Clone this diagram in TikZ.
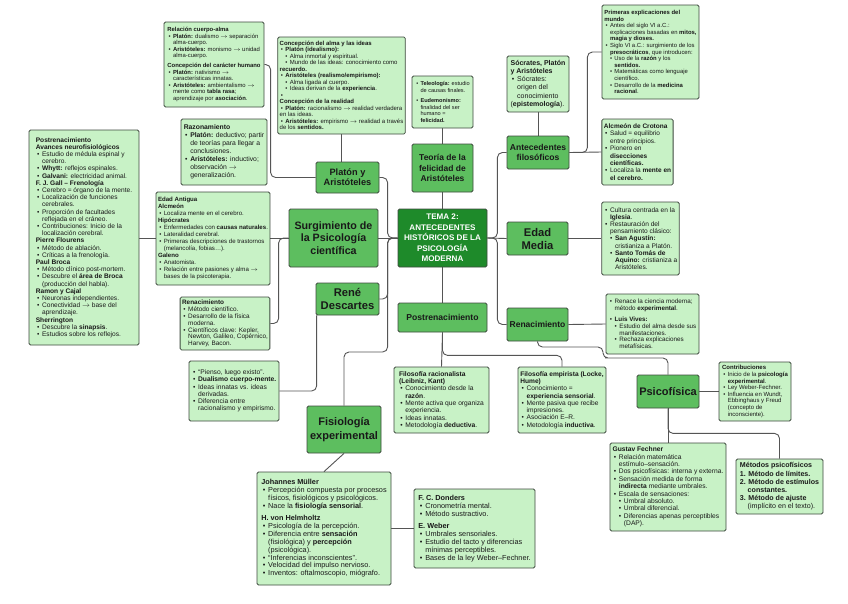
\documentclass[tikz,border=0pt]{standalone}
\usepackage{fontspec}
\setmainfont{Liberation Sans}
\usetikzlibrary{backgrounds}
\definecolor{verdeclaro}{HTML}{C8F2C6}
\definecolor{verdemedio}{HTML}{5DBE5F}
\definecolor{verdeosc}{HTML}{1E8A2A}
\definecolor{borde}{HTML}{3F4A3F}
\definecolor{linea}{HTML}{555555}
\newcommand{\hbul}{\hspace*{0.2em}\makebox[0.75em][l]{\textbullet}}
\newcommand{\hcnt}{\hspace*{0.95em}}
\newcommand{\sbul}{\hspace*{0.95em}\makebox[0.75em][l]{\textbullet}}
\newcommand{\scnt}{\hspace*{1.7em}}
\newcommand{\tam}[2]{\fontsize{#1}{#2}\selectfont}
\newcommand{\flecha}{\ensuremath{\rightarrow}}
\begin{document}
\begin{tikzpicture}[x=1pt,y=-1pt,
	hoja/.style={draw=borde,fill=verdeclaro,rounded corners=1.5pt,line width=0.8pt,
		align=left,inner sep=2pt,text=black!90},
	rama/.style={draw=borde,fill=verdemedio,rounded corners=1.5pt,line width=0.8pt,
		align=center,inner sep=1pt,text=black!90},
	tema/.style={draw=borde,fill=verdeosc,rounded corners=1.5pt,line width=0.8pt,
		align=center,inner sep=1pt,text=white},
	enlace/.style={draw=linea,line width=0.9pt,rounded corners=5pt}]
	\useasboundingbox (0,0) rectangle (848,603);
	% Nodo central
	\node[tema,minimum width=89pt,minimum height=58pt,font=\tam{8.1}{10.4}\bfseries] (centro) at (442.5,238)
		{TEMA 2:\\ANTECEDENTES\\HISTÓRICOS DE LA\\PSICOLOGÍA\\MODERNA};
	% Ramas
	\node[rama,minimum width=63pt,minimum height=31pt,font=\tam{9.2}{10.3}\bfseries] (platon) at (347.5,177.5) {Platón y\\Aristóteles};
	\node[rama,minimum width=61pt,minimum height=48pt,font=\tam{8.5}{10.5}\bfseries] (teoria) at (442.5,168) {Teoría de la\\felicidad de\\Aristóteles};
	\node[rama,minimum width=62pt,minimum height=33pt,font=\tam{8.6}{10.5}\bfseries] (antec) at (538,152.5) {Antecedentes\\filosóficos};
	\node[rama,minimum width=89pt,minimum height=58pt,font=\tam{10.7}{12.4}\bfseries] (surg) at (333.5,238) {Surgimiento de\\la Psicología\\científica};
	\node[rama,minimum width=63pt,minimum height=32pt,font=\tam{11.2}{13}\bfseries] (rene) at (347.5,299) {René\\Descartes};
	\node[rama,minimum width=61pt,minimum height=33pt,font=\tam{11.2}{13}\bfseries] (edadm) at (537.5,238.5) {Edad\\Media};
	\node[rama,minimum width=89pt,minimum height=29pt,font=\tam{8.6}{10}\bfseries] (postren) at (442.5,317.5) {Postrenacimiento};
	\node[rama,minimum width=61pt,minimum height=33pt,font=\tam{8.5}{10}\bfseries] (renac) at (537.5,324.5) {Renacimiento};
	\node[rama,minimum width=62pt,minimum height=33pt,font=\tam{11}{13}\bfseries] (psico) at (668,391.5) {Psicofísica};
	\node[rama,minimum width=74pt,minimum height=47pt,font=\tam{11}{13.3}\bfseries] (fisio) at (344,429.5) {Fisiología\\experimental};
	% Hojas
	\node[hoja,minimum width=100pt,minimum height=85pt,font=\tam{5.9}{6.6}] (relacion) at (214,64.5) {%
		\textbf{Relación cuerpo-alma}\\
		\hbul\textbf{Platón:} dualismo \flecha{} separación\\
		\hcnt alma-cuerpo.\\
		\hbul\textbf{Aristóteles:} monismo \flecha{} unidad\\
		\hcnt alma-cuerpo.\\[3pt]
		\textbf{Concepción del carácter humano}\\
		\hbul\textbf{Platón:} nativismo \flecha\\
		\hcnt características innatas.\\
		\hbul\textbf{Aristóteles:} ambientalismo \flecha\\
		\hcnt mente como \textbf{tabla rasa};\\
		\hcnt aprendizaje por \textbf{asociación}.};
	\node[hoja,minimum width=125pt,minimum height=97pt,font=\tam{6}{6.5}] (concep) at (341.5,85.5) {%
		\textbf{Concepción del alma y las ideas}\\
		\hbul\textbf{Platón (idealismo):}\\
		\sbul Alma inmortal y espiritual.\\
		\sbul Mundo de las ideas: conocimiento como\\
		\textbf{recuerdo.}\\
		\hbul\textbf{Aristóteles (realismo/empirismo):}\\
		\sbul Alma ligada al cuerpo.\\
		\sbul Ideas derivan de la \textbf{experiencia}.\\
		\hbul\\
		\textbf{Concepción de la realidad}\\
		\hbul\textbf{Platón:} racionalismo \flecha{} realidad verdadera\\
		en las ideas.\\
		\hbul\textbf{Aristóteles:} empirismo \flecha{} realidad a través\\
		de los \textbf{sentidos.}};
	\node[hoja,minimum width=86pt,minimum height=66pt,font=\tam{6.8}{8}] (razon) at (224,152) {%
		\textbf{Razonamiento}\\
		\hbul\textbf{Platón:} deductivo; partir\\
		\hcnt de teorías para llegar a\\
		\hcnt conclusiones.\\
		\hbul\textbf{Aristóteles:} inductivo;\\
		\hcnt observación \flecha\\
		\hcnt generalización.};
	\node[hoja,minimum width=61pt,minimum height=52pt,font=\tam{5.6}{6.6}] (teleo) at (442.5,102) {%
		\hbul\textbf{Teleología:} estudio\\
		\hcnt de causas finales.\\[4pt]
		\hbul\textbf{Eudemonismo:}\\
		\hcnt finalidad del ser\\
		\hcnt humano =\\
		\hcnt\textbf{felicidad.}};
	\node[hoja,minimum width=62pt,minimum height=56pt,font=\tam{7}{8.2}] (socrates) at (538,84) {%
		\textbf{Sócrates, Platón}\\
		\textbf{y Aristóteles}\\
		\hbul Sócrates:\\
		\hcnt origen del\\
		\hcnt conocimiento\\
		(\textbf{epistemología}).};
	\node[hoja,minimum width=97pt,minimum height=94pt,font=\tam{5.9}{6.6}] (primeras) at (650.5,52) {%
		\textbf{Primeras explicaciones del}\\
		\textbf{mundo}\\
		\hbul Antes del siglo VI a.C.:\\
		\hcnt explicaciones basadas en \textbf{mitos,}\\
		\hcnt\textbf{magia y dioses.}\\
		\hbul Siglo VI a.C.: surgimiento de los\\
		\hcnt\textbf{presocráticos}, que introducen:\\
		\sbul Uso de la \textbf{razón} y los\\
		\scnt\textbf{sentidos.}\\
		\sbul Matemáticas como lenguaje\\
		\scnt científico.\\
		\sbul Desarrollo de la \textbf{medicina}\\
		\scnt\textbf{racional}.};
	\node[hoja,minimum width=71pt,minimum height=66pt,font=\tam{6.5}{7.4}] (alcmeon) at (637.5,152) {%
		\textbf{Alcmeón de Crotona}\\
		\hbul Salud = equilibrio\\
		\hcnt entre principios.\\
		\hbul Pionero en\\
		\hcnt\textbf{disecciones}\\
		\hcnt\textbf{científicas.}\\
		\hbul Localiza la \textbf{mente en}\\
		\hcnt\textbf{el cerebro.}};
	\node[hoja,minimum width=110pt,minimum height=215pt,font=\tam{6.6}{7.2}] (postleaf) at (84,237.5) {%
		\textbf{Postrenacimiento}\\
		\textbf{Avances neurofisiológicos}\\
		\hbul Estudio de médula espinal y\\
		\hcnt cerebro.\\
		\hbul\textbf{Whytt:} reflejos espinales.\\
		\hbul\textbf{Galvani:} electricidad animal.\\
		\textbf{F. J. Gall – Frenología}\\
		\hbul Cerebro = órgano de la mente.\\
		\hbul Localización de funciones\\
		\hcnt cerebrales.\\
		\hbul Proporción de facultades\\
		\hcnt reflejada en el cráneo.\\
		\hbul Contribuciones: Inicio de la\\
		\hcnt localización cerebral.\\
		\textbf{Pierre Flourens}\\
		\hbul Método de ablación.\\
		\hbul Críticas a la frenología.\\
		\textbf{Paul Broca}\\
		\hbul Método clínico post-mortem.\\
		\hbul Descubre el \textbf{área de Broca}\\
		\hcnt(producción del habla).\\
		\textbf{Ramon y Cajal}\\
		\hbul Neuronas independientes.\\
		\hbul Conectividad \flecha{} base del\\
		\hcnt aprendizaje.\\
		\textbf{Sherrington}\\
		\hbul Descubre la \textbf{sinapsis}.\\
		\hbul Estudios sobre los reflejos.};
	\node[hoja,minimum width=112pt,minimum height=93pt,font=\tam{6.1}{7}] (antigua) at (213,238.5) {%
		\textbf{Edad Antigua}\\
		\textbf{Alcmeón}\\
		\hbul Localiza mente en el cerebro.\\
		\textbf{Hipócrates}\\
		\hbul Enfermedades con \textbf{causas naturales}.\\
		\hbul Lateralidad cerebral.\\
		\hbul Primeras descripciones de trastornos\\
		\hcnt(melancolía, fobias…).\\
		\textbf{Galeno}\\
		\hbul Anatomista.\\
		\hbul Relación entre pasiones y alma \flecha\\
		\hcnt bases de la psicoterapia.};
	\node[hoja,minimum width=88pt,minimum height=53pt,font=\tam{6.4}{6.9}] (renleaf) at (225,323.5) {%
		\textbf{Renacimiento}\\
		\hbul Método científico.\\
		\hbul Desarrollo de la física\\
		\hcnt moderna.\\
		\hbul Científicos clave: Kepler,\\
		\hcnt Newton, Galileo, Copérnico,\\
		\hcnt Harvey, Bacon.};
	\node[hoja,minimum width=90pt,minimum height=60pt,font=\tam{6.7}{7.3}] (pienso) at (234,391) {%
		\hbul “Pienso, luego existo”.\\
		\hbul\textbf{Dualismo cuerpo-mente.}\\
		\hbul Ideas innatas vs. ideas\\
		\hcnt derivadas.\\
		\hbul Diferencia entre\\
		\hcnt racionalismo y empirismo.};
	\node[hoja,minimum width=77pt,minimum height=73pt,font=\tam{6.6}{7.2}] (emleaf) at (640.5,238.5) {%
		\hbul Cultura centrada en la\\
		\hcnt\textbf{Iglesia}.\\
		\hbul Restauración del\\
		\hcnt pensamiento clásico:\\
		\sbul\textbf{San Agustín:}\\
		\scnt cristianiza a Platón.\\
		\sbul\textbf{Santo Tomás de}\\
		\scnt\textbf{Aquino:} cristianiza a\\
		\scnt Aristóteles.};
	\node[hoja,minimum width=93pt,minimum height=60pt,font=\tam{6.3}{6.8}] (renace) at (652.5,324) {%
		\hbul Renace la ciencia moderna;\\
		\hcnt método \textbf{experimental}.\\[4pt]
		\hbul\textbf{Luis Vives:}\\
		\sbul Estudio del alma desde sus\\
		\scnt manifestaciones.\\
		\sbul Rechaza explicaciones\\
		\scnt metafísicas.};
	\node[hoja,minimum width=72pt,minimum height=59pt,font=\tam{6}{6.6}] (contrib) at (755,391.5) {%
		\textbf{Contribuciones}\\
		\hbul Inicio de la \textbf{psicología}\\
		\hcnt\textbf{experimental}.\\
		\hbul Ley Weber-Fechner.\\
		\hbul Influencia en Wundt,\\
		\hcnt Ebbinghaus y Freud\\
		\hcnt(concepto de\\
		\hcnt inconsciente).};
	\node[hoja,minimum width=116pt,minimum height=88pt,font=\tam{6.7}{7.4}] (fechner) at (668,487) {%
		\textbf{Gustav Fechner}\\
		\hbul Relación matemática\\
		\hcnt estímulo–sensación.\\
		\hbul Dos psicofísicas: interna y externa.\\
		\hbul Sensación medida de forma\\
		\hcnt\textbf{indirecta} mediante umbrales.\\
		\hbul Escala de sensaciones:\\
		\sbul Umbral absoluto.\\
		\sbul Umbral diferencial.\\
		\sbul Diferencias apenas perceptibles\\
		\scnt(DAP).};
	\node[hoja,minimum width=87pt,minimum height=55pt,font=\tam{7.1}{8.2}] (metodos) at (779.5,486.5) {%
		\textbf{Métodos psicofísicos}\\
		\textbf{1. Método de límites.}\\
		\textbf{2. Método de estímulos}\\
		\hspace*{1.1em}\textbf{constantes.}\\
		\textbf{3. Método de ajuste}\\
		\hspace*{1.1em}(implícito en el texto).};
	\node[hoja,minimum width=95pt,minimum height=66pt,font=\tam{6.7}{7.3}] (racional) at (441.5,400) {%
		\textbf{Filosofía racionalista}\\
		\textbf{(Leibniz, Kant)}\\
		\hbul Conocimiento desde la\\
		\hcnt\textbf{razón}.\\
		\hbul Mente activa que organiza\\
		\hcnt experiencia.\\
		\hbul Ideas innatas.\\
		\hbul Metodología \textbf{deductiva}.};
	\node[hoja,minimum width=88pt,minimum height=66pt,font=\tam{6.6}{7.3}] (empir) at (562,400) {%
		\textbf{Filosofía empirista (Locke,}\\
		\textbf{Hume)}\\
		\hbul Conocimiento =\\
		\hcnt\textbf{experiencia sensorial}.\\
		\hbul Mente pasiva que recibe\\
		\hcnt impresiones.\\
		\hbul Asociación E–R.\\
		\hbul Metodología \textbf{inductiva}.};
	\node[hoja,minimum width=134pt,minimum height=113pt,font=\tam{7.3}{7.9}] (muller) at (324,528.5) {%
		\textbf{Johannes Müller}\\
		\hbul Percepción compuesta por procesos\\
		\hcnt físicos, fisiológicos y psicológicos.\\
		\hbul Nace la \textbf{fisiología sensorial}.\\[4pt]
		\textbf{H. von Helmholtz}\\
		\hbul Psicología de la percepción.\\
		\hbul Diferencia entre \textbf{sensación}\\
		\hcnt(fisiológica) y \textbf{percepción}\\
		\hcnt(psicológica).\\
		\hbul “Inferencias inconscientes”.\\
		\hbul Velocidad del impulso nervioso.\\
		\hbul Inventos: oftalmoscopio, miógrafo.};
	\node[hoja,minimum width=121pt,minimum height=79pt,font=\tam{7.3}{7.9}] (donders) at (474.5,528.5) {%
		\textbf{F. C. Donders}\\
		\hbul Cronometría mental.\\
		\hbul Método sustractivo.\\[4pt]
		\textbf{E. Weber}\\
		\hbul Umbrales sensoriales.\\
		\hbul Estudio del tacto y diferencias\\
		\hcnt mínimas perceptibles.\\
		\hbul Bases de la ley Weber–Fechner.};
	% Conectores (detrás de las cajas)
	\begin{pgfonlayer}{background}
		\fill[white] (0,0) rectangle (848,603);
		\draw[enlace] (centro.north) -- (teoria.south);
		\draw[enlace] (teoria.north) -- (teleo.south);
		\draw[enlace] (concep.south) -- (concep.south |- platon.north);
		\draw[enlace] (platon.west) -- ++(-45,0) |- (relacion.east);
		\draw[enlace] (centro.west) -- ++(-10,0) |- (platon.east);
		\draw[enlace] (centro.west) -- (surg.east);
		\draw[enlace] (centro.west) -- ++(-10,0) |- (rene.east);
		\draw[enlace] (centro.west) -- ++(-10,0) -- ++(0,114) -| (fisio.north);
		\draw[enlace] (surg.west) -- (surg.west -| postleaf.east);
		\draw[enlace] (surg.west) -- ++(-10,0) |- (renleaf.east);
		\draw[enlace] (pienso.east) -| ([xshift=1pt]rene.south west);
		\draw[enlace] (fisio.south) -- (muller.north);
		\draw[enlace] (muller.east) -- (donders.west);
		\draw[enlace] (centro.south) -- (postren.north);
		\draw[enlace] (postren.south) -- (racional.north);
		\draw[enlace] (postren.south) -- ++(0,23) -| (empir.north);
		\draw[enlace] (centro.east) -- ++(10,0) |- (antec.west);
		\draw[enlace] (centro.east) -- (edadm.west);
		\draw[enlace] (centro.east) -- ++(10,0) |- (renac.west);
		\draw[enlace] (antec.north) -- (socrates.south);
		\draw[enlace] (antec.east) -- (alcmeon.west);
		\draw[enlace] (antec.east) -- ++(18,0) |- (primeras.west);
		\draw[enlace] (edadm.east) -- (emleaf.west);
		\draw[enlace] (renac.east) -- (renace.west);
		\draw[enlace] (renac.south) |- (603,347) |- (610,358) -| (psico.north);
		\draw[enlace] (psico.east) -- (contrib.west);
		\draw[enlace] (psico.south) -- (fechner.north);
		\draw[enlace] (psico.south) -- ++(0,25) -| (metodos.north);
	\end{pgfonlayer}
\end{tikzpicture}
\end{document}
